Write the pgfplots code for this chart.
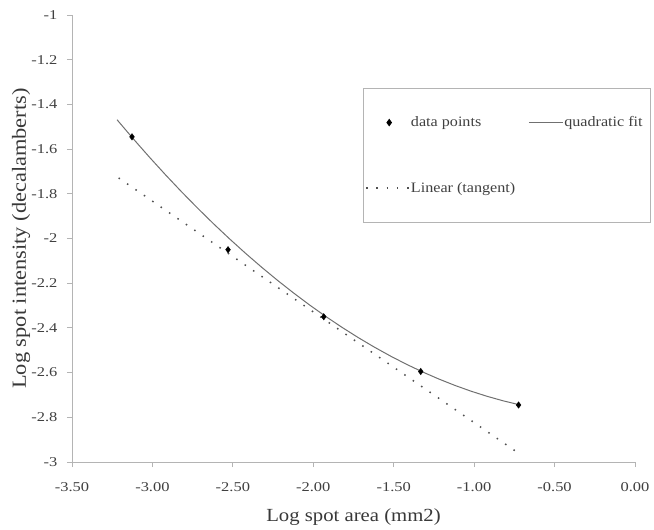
\documentclass[border=0pt]{standalone}
\usepackage{fontspec}
\setmainfont[FakeStretch=1.12]{Liberation Serif}
\newfontfamily\tickfont[FakeStretch=1.22]{Liberation Serif}
\usepackage{pgfplots}
\pgfplotsset{compat=1.18}
\definecolor{axgray}{HTML}{B4B4B4}
\definecolor{txtgray}{HTML}{404040}
\definecolor{fitgray}{HTML}{707070}
\definecolor{dotgray}{HTML}{505050}
\begin{document}
\begin{tikzpicture}
\begin{axis}[
  scale only axis, width=563pt, height=447pt,
  xmin=-3.5, xmax=0, ymin=-3, ymax=-1,
  axis lines*=left,
  axis line style={axgray, line width=0.8pt},
  xtick={-3.5,-3,-2.5,-2,-1.5,-1,-0.5,0},
  ytick={-3,-2.8,-2.6,-2.4,-2.2,-2,-1.8,-1.6,-1.4,-1.2,-1},
  tick style={axgray, line width=0.8pt},
  tick align=outside, major tick length=5pt,
  ticklabel style={font=\tickfont\fontsize{13.5}{16}\selectfont, text=txtgray},
  xticklabel style={yshift=-12pt, /pgf/number format/.cd, fixed, fixed zerofill, precision=2, assume math mode=true},
  yticklabel style={xshift=-6pt, /pgf/number format/.cd, fixed, precision=1, assume math mode=true},
  xlabel={Log spot area (mm2)},
  ylabel={Log spot intensity (decalamberts)},
  xlabel style={at={(axis description cs:0.5,-0.123)}, anchor=center, font=\fontsize{18.5}{21}\selectfont, text=black!78},
  ylabel style={at={(axis description cs:-0.0906,0.5)}, anchor=center, font=\fontsize{20}{23}\selectfont, text=black!78},
  legend columns=2,
  legend cell align=left,
  legend style={at={(axis description cs:0.517,0.837)}, anchor=north west,
    draw=axgray, line width=0.8pt, font=\fontsize{14.4}{17}\selectfont, text=txtgray,
    inner xsep=2pt, inner ysep=26.5pt, row sep=50pt,
    nodes={inner xsep=1pt},
    /tikz/every even column/.append style={column sep=12pt}},
]
\addplot[only marks, mark=diamond*, mark size=3.2pt, color=black,
  legend image code/.code={\path[draw=none] (0pt,0pt) -- (43pt,0pt); \fill[black] (23pt,3.2pt) -- (25.3pt,0pt) -- (23pt,-3.2pt) -- (20.7pt,0pt) -- cycle;}]
  coordinates {(-3.127,-1.545) (-2.53,-2.05) (-1.935,-2.35) (-1.332,-2.595) (-0.724,-2.745)};
\addlegendentry{data points}
\addplot[fitgray, line width=1pt, no marks,
  legend image code/.code={\draw[fitgray, line width=1pt] (0pt,0pt) -- (34pt,0pt);}]
  coordinates {
(-3.22,-1.4686) (-3.12,-1.5532) (-3.02,-1.635) (-2.92,-1.714) (-2.82,-1.7902)
(-2.72,-1.8636) (-2.62,-1.9342) (-2.52,-2.002) (-2.42,-2.067) (-2.32,-2.1292)
(-2.22,-2.1886) (-2.12,-2.2452) (-2.02,-2.299) (-1.92,-2.35) (-1.82,-2.3982)
(-1.72,-2.4436) (-1.62,-2.4862) (-1.52,-2.526) (-1.42,-2.563) (-1.32,-2.5972)
(-1.22,-2.6286) (-1.12,-2.6572) (-1.02,-2.683) (-0.92,-2.706) (-0.82,-2.7262)
(-0.72,-2.7436)};
\addlegendentry{quadratic fit\hspace*{5pt}}
\addplot[dotgray, line width=1.5pt, no marks, dash pattern=on 1.5pt off 8.7pt,
  legend image code/.code={\draw[dotgray, line width=1.5pt, dash pattern=on 1.5pt off 8.7pt] (0pt,0pt) -- (43pt,0pt);}]
  coordinates {(-3.21,-1.729) (-0.717,-2.964)};
\addlegendentry{Linear (tangent)}
\end{axis}
\pgfresetboundingbox
\path[use as bounding box] ([xshift=-72pt,yshift=-67pt]current axis.south west) rectangle ([xshift=19pt,yshift=15pt]current axis.north east);
\end{tikzpicture}
\end{document}
